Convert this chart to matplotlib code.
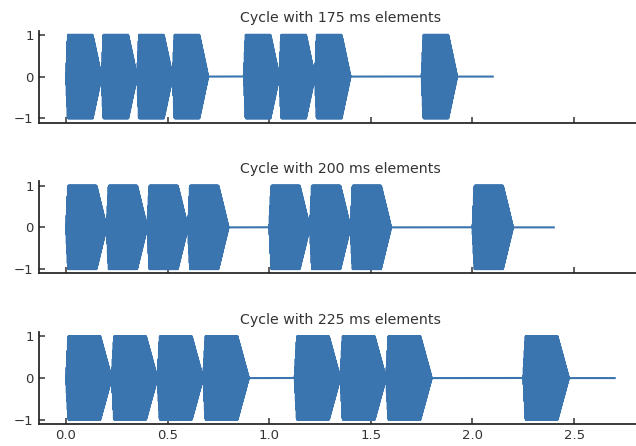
import numpy as np
import matplotlib
matplotlib.use('Agg')
import matplotlib.pyplot as plt

# element durations (ms) and the on/off pattern of one cycle
element_ms = [175, 200, 225]
pattern = [1, 1, 1, 1, 0, 1, 1, 1, 0, 0, 1, 0]
tone_hz = 440
fs = 44100
attack_frac = 0.05
release_frac = 0.25

color = '#3a75b0'
text_color = '#333333'

plt.rcParams['font.family'] = 'DejaVu Sans'
plt.rcParams['font.size'] = 9.5


def make_cycle(dur):
    n = int(round(dur * fs))
    t = np.arange(n) / fs
    env = np.ones(n)
    na = max(1, int(round(attack_frac * n)))
    nr = int(round(release_frac * n))
    env[:na] = np.linspace(0, 1, na)
    env[n - nr:] = np.linspace(1, 0, nr)
    tone = env * np.sin(2 * np.pi * tone_hz * t)
    parts = [tone if p else np.zeros(n) for p in pattern]
    y = np.concatenate(parts)
    x = np.arange(len(y)) / fs
    return x, y


fig = plt.figure(figsize=(6.36, 4.46), dpi=100)
bottoms = [0.7253, 0.3872, 0.0493]
axes = []
for i, ms in enumerate(element_ms):
    ax = fig.add_axes([0.0607, bottoms[i], 0.949, 0.206],
                      sharex=axes[0] if axes else None)
    axes.append(ax)
    x, y = make_cycle(ms / 1000)
    ax.plot(x, y, color=color, lw=1.5)
    ax.set_title("Cycle with %d ms elements" % ms, color=text_color,
                 fontsize=10.2)
    ax.set_yticks([-1, 0, 1])
    ax.spines['top'].set_visible(False)
    ax.spines['right'].set_visible(False)
    for s in ['left', 'bottom']:
        ax.spines[s].set_linewidth(1.25)
        ax.spines[s].set_color('#222222')
    ax.tick_params(direction='in', length=4, width=1.1, color='#333333',
                   labelcolor=text_color, labelsize=9.5)
    if i < 2:
        ax.tick_params(labelbottom=False)

axes[0].set_xlim(-0.135, 2.835)
axes[-1].set_xticks([0.0, 0.5, 1.0, 1.5, 2.0, 2.5])

fig.savefig('out.png', dpi=100)
